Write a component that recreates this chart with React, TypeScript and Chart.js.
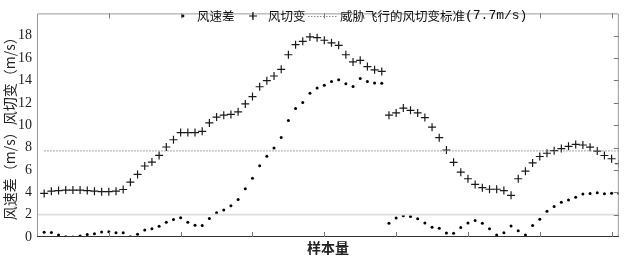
import React, { useEffect, useRef } from "react";
import { Chart, registerables } from "chart.js";

Chart.register(...registerables);

const sampleIndex: number[] = Array.from({ length: 81 }, (_, i) => i + 1);

const windSpeedDiff: number[] = [
  0.42, 0.4, 0.17, 0.02, 0.0, 0.08, 0.22, 0.3, 0.45, 0.48,
  0.37, 0.37, 0.03, 0.25, 0.62, 0.73, 0.96, 1.33, 1.56, 1.73,
  1.33, 1.05, 1.02, 1.65, 2.16, 2.42, 2.79, 3.36, 4.32, 5.26,
  6.37, 7.23, 7.97, 8.91, 10.42, 11.5, 12.04, 12.85, 13.33, 13.58,
  13.9, 14.07, 13.7, 13.47, 14.18, 13.9, 13.78, 13.75, 1.22, 1.7,
  1.9, 1.84, 1.64, 1.25, 0.88, 0.78, 0.35, 0.33, 0.85, 1.26,
  1.48, 1.22, 0.73, 0.17, 0.37, 0.99, 0.56, 0.17, 1.02, 1.59,
  2.3, 2.73, 3.1, 3.3, 3.56, 3.84, 3.9, 3.95, 3.87, 3.92, 3.92,
];

const windShear: number[] = [
  3.9, 4.1, 4.15, 4.2, 4.2, 4.2, 4.15, 4.1, 4.05, 4.05,
  4.1, 4.25, 4.9, 5.6, 6.35, 6.7, 7.3, 8.05, 8.7, 9.34,
  9.34, 9.34, 9.45, 10.2, 10.73, 10.9, 10.96, 11.2, 11.9, 12.56,
  13.44, 13.98, 14.4, 15.0, 16.3, 17.2, 17.5, 17.9, 17.83, 17.6,
  17.37, 17.14, 16.3, 15.66, 15.8, 15.24, 14.95, 14.81, 10.9, 11.1,
  11.53, 11.33, 11.1, 10.68, 9.82, 8.88, 7.78, 6.68, 5.8, 5.21,
  4.7, 4.41, 4.27, 4.27, 4.15, 3.73, 5.21, 5.89, 6.63, 7.2,
  7.49, 7.72, 7.91, 8.11, 8.28, 8.23, 8.03, 7.69, 7.29, 7.0, 6.55,
];

const thresholdValue = 7.7;
const referenceLineValue = 2;
const xMin = 0;
const xMax = 81;
const yMin = 0;
const yMax = 20;
const yTickValues: number[] = [0, 2, 4, 6, 8, 10, 12, 14, 16, 18];
const xTickValues: number[] = [10, 20, 30, 40, 50, 60, 70, 80];

const seriesLabels: string[] = ["风速差", "风切变", "威胁飞行的风切变标准(7.7m/s)"];
const xTitle = "样本量";
const yTitle = "风速差（m/s）风切变（m/s）";

const SERIF = '"Liberation Serif", "DejaVu Serif", serif';

const framePlugin = {
  id: "frameTicks",
  afterDraw(chart: any) {
    const { ctx, chartArea, scales } = chart;
    const { left, right, top, bottom } = chartArea;
    ctx.save();
    ctx.lineWidth = 1;
    ctx.strokeStyle = "#9a9a9a";
    ctx.beginPath();
    ctx.moveTo(left + 0.5, bottom);
    ctx.lineTo(left + 0.5, top + 0.5);
    ctx.lineTo(right - 0.5, top + 0.5);
    ctx.lineTo(right - 0.5, bottom);
    ctx.stroke();
    ctx.strokeStyle = "#333";
    ctx.beginPath();
    ctx.moveTo(left, bottom - 0.5);
    ctx.lineTo(right, bottom - 0.5);
    ctx.stroke();
    ctx.strokeStyle = "#777";
    ctx.beginPath();
    xTickValues.forEach((v) => {
      const x = Math.round(scales.x.getPixelForValue(v)) + 0.5;
      ctx.moveTo(x, bottom);
      ctx.lineTo(x, bottom - 5);
      ctx.moveTo(x, top);
      ctx.lineTo(x, top + 5);
    });
    yTickValues.forEach((v) => {
      if (v === 0) return;
      const y = Math.round(scales.y.getPixelForValue(v)) + 0.5;
      ctx.moveTo(right, y);
      ctx.lineTo(right - 5, y);
    });
    ctx.stroke();

    // legend
    const ly = 16;
    ctx.font = '12.5px "Noto Sans CJK SC", serif';
    ctx.textBaseline = "middle";
    ctx.fillStyle = "#111";
    ctx.beginPath();
    ctx.arc(183, ly, 1.4, 0, Math.PI * 2);
    ctx.fill();
    ctx.fillText(seriesLabels[0], 197, ly);
    ctx.strokeStyle = "#111";
    ctx.lineWidth = 1.2;
    ctx.beginPath();
    ctx.moveTo(249, ly);
    ctx.lineTo(257, ly);
    ctx.moveTo(253, ly - 4);
    ctx.lineTo(253, ly + 4);
    ctx.stroke();
    ctx.fillText(seriesLabels[1], 268, ly);
    ctx.strokeStyle = "#888";
    ctx.lineWidth = 1;
    ctx.setLineDash([1.5, 1.5]);
    ctx.beginPath();
    ctx.moveTo(308, ly + 0.5);
    ctx.lineTo(337, ly + 0.5);
    ctx.stroke();
    ctx.setLineDash([]);
    const label = seriesLabels[2];
    const idx = label.indexOf("(");
    const cn = label.slice(0, idx);
    const rest = label.slice(idx);
    ctx.fillText(cn, 340, ly);
    const w = ctx.measureText(cn).width;
    ctx.font = '13px "Liberation Mono", "Liberation Serif", serif';
    ctx.fillText(rest, 340 + w, ly);
    ctx.restore();
  },
};

export default function App() {
  const ref = useRef<HTMLCanvasElement | null>(null);

  useEffect(() => {
    document.body.style.margin = "0";
    if (!ref.current) return;
    const chart = new Chart(ref.current, {
      type: "scatter",
      data: {
        datasets: [
          {
            label: "ref2",
            data: [
              { x: xMin, y: referenceLineValue },
              { x: xMax, y: referenceLineValue },
            ],
            showLine: true,
            borderColor: "#dedede",
            borderWidth: 1.6,
            pointRadius: 0,
          } as any,
          {
            label: seriesLabels[2],
            data: sampleIndex.map((x) => ({ x, y: thresholdValue })),
            showLine: true,
            borderColor: "#8a8a8a",
            borderWidth: 1,
            borderDash: [1.5, 1.5],
            pointRadius: 0,
          } as any,
          {
            label: seriesLabels[0],
            data: sampleIndex.map((x, i) => ({ x, y: windSpeedDiff[i] })),
            pointStyle: "circle",
            pointRadius: 1.5,
            backgroundColor: "#000",
            borderColor: "#000",
            borderWidth: 0,
          },
          {
            label: seriesLabels[1],
            data: sampleIndex.map((x, i) => ({ x, y: windShear[i] })),
            pointStyle: "cross",
            pointRadius: 4,
            borderColor: "#1a1a1a",
            borderWidth: 1.2,
          },
        ],
      },
      options: {
        responsive: false,
        animation: false,
        layout: { padding: { top: 3, right: 4, left: 0, bottom: 0 } },
        plugins: {
          legend: { display: false },
          tooltip: { enabled: false },
        },
        scales: {
          x: {
            type: "linear",
            min: xMin,
            max: xMax,
            ticks: { display: false, stepSize: 10 },
            grid: { display: false },
            border: { display: false },
            title: {
              display: true,
              text: xTitle,
              font: { family: '"Noto Sans CJK SC", serif', size: 14, weight: "bold" },
              color: "#222",
              padding: { top: 0, bottom: 3 },
            },
            afterFit: (s: any) => {
              s.height = 22;
            },
          },
          y: {
            type: "linear",
            min: yMin,
            max: yMax,
            afterBuildTicks: (s: any) => {
              s.ticks = yTickValues.map((v) => ({ value: v }));
            },
            ticks: {
              font: { family: SERIF, size: 14 },
              color: "#222",
              padding: 5,
            },
            grid: { display: false, drawTicks: false },
            border: { display: false },
            title: {
              display: true,
              text: yTitle,
              font: { family: '"Noto Sans CJK SC", serif', size: 14 },
              color: "#222",
              padding: { top: 1, bottom: 0 },
            },
            afterFit: (s: any) => {
              s.width = 37;
            },
          },
        },
      },
      plugins: [framePlugin],
    });
    return () => chart.destroy();
  }, []);

  return (
    <div style={{ position: "absolute", left: 0, top: 0, width: 624, height: 259, background: "#fff" }}>
      <canvas ref={ref} width={624} height={259} style={{ display: "block" }} />
    </div>
  );
}
